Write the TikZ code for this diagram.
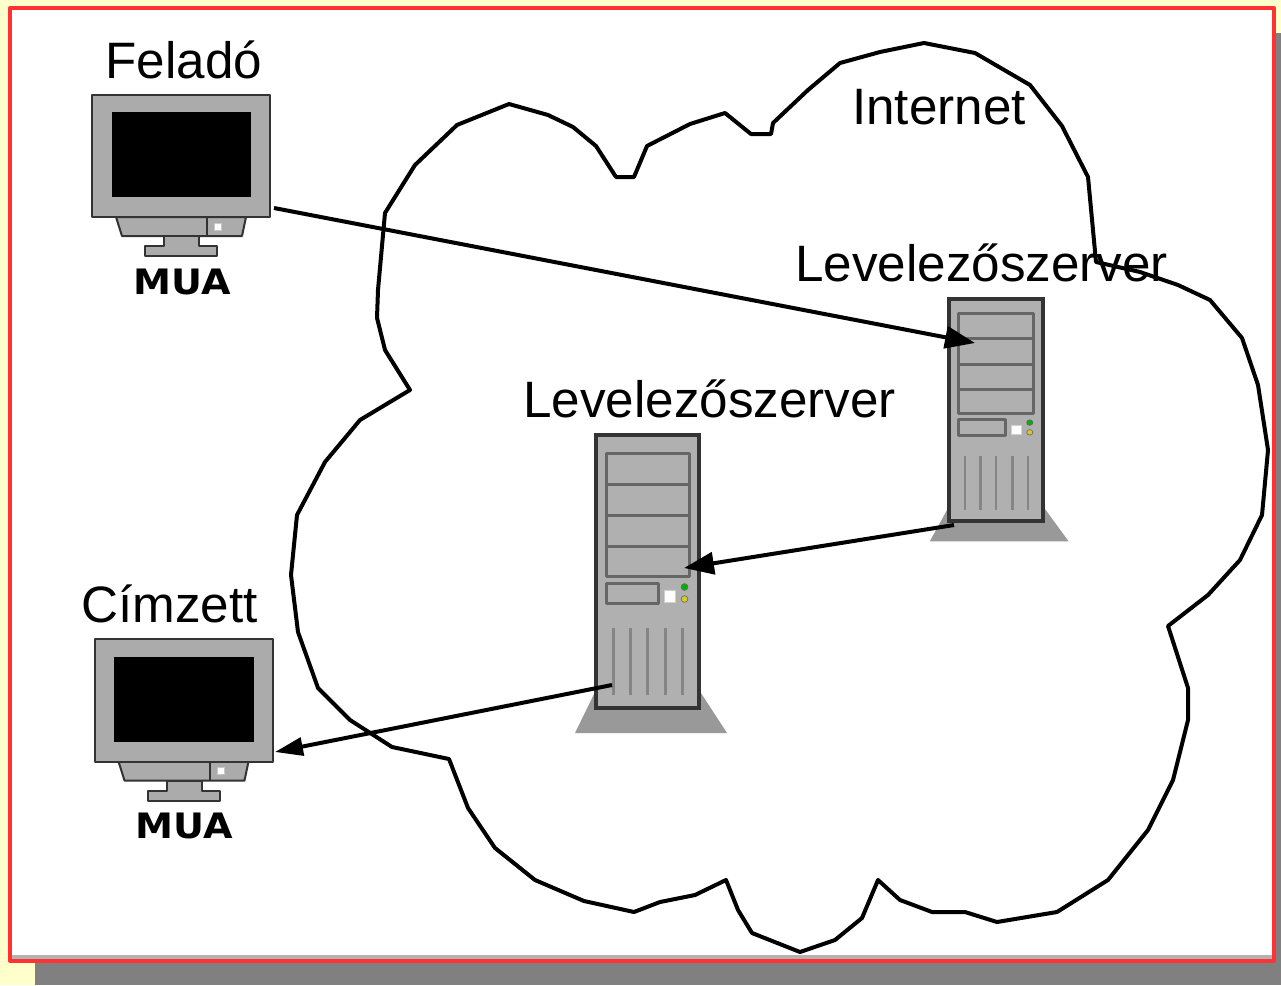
\documentclass[tikz,border=0pt]{standalone}
\usepackage{fontspec}
\setmainfont{Liberation Sans}
\newfontfamily\muafont{DejaVu Sans}
\usetikzlibrary{arrows.meta}
\definecolor{pagebg}{HTML}{FFFFCC}
\definecolor{shadowgray}{HTML}{808080}
\definecolor{framered}{HTML}{FF3333}
\definecolor{casegray}{HTML}{B0B0B0}
\definecolor{mongray}{HTML}{ABABAB}
\definecolor{basegray}{HTML}{999999}
\definecolor{edgegray}{HTML}{666666}
\definecolor{darkedge}{HTML}{333333}
\tikzset{
  x=1pt,y=-1pt,
  lbl/.style={font=\fontsize{51.2}{56}\selectfont,anchor=base west,inner sep=0pt,text=black},
  mua/.style={font=\muafont\bfseries\fontsize{35}{38}\selectfont,anchor=base,inner sep=0pt,text=black,xscale=1.09},
  cloudline/.style={draw=black,line width=4pt,line join=round},
  flow/.style={draw=black,line width=4pt,-{Triangle[length=30pt,width=22pt]}},
  flowthin/.style={draw=black,line width=4pt,-{Triangle[length=28pt,width=18pt]}},
  casebox/.style={fill=casegray,draw=darkedge,line width=3.4pt},
  bay/.style={draw=edgegray,line width=3pt,fill=casegray,line join=round},
  vent/.style={draw=edgegray!80,line width=2.6pt},
  monpart/.style={fill=mongray,draw=darkedge,line width=2pt,line join=round},
}
\newcommand{\drawmonitor}[2]{%
  \begin{scope}[shift={(#1,#2)}]
    \path[monpart] (24,123) -- (154,123) -- (150,142) -- (30,142) -- cycle;
    \path[monpart] (72,142) -- (72,152) -- (53,152) -- (53,162) -- (125,162) -- (125,152) -- (107,152) -- (107,142) -- cycle;
    \draw[darkedge,line width=2pt] (115,123) -- (115,142);
    \fill[white,draw=casegray!70!white,line width=1pt] (122.5,129) rectangle (129.5,136);
    \path[monpart] (0,0.5) rectangle (178,123);
    \fill[black] (19.5,18) rectangle (159,103);
  \end{scope}}
\newcommand{\drawserver}[4]{%
  \begin{scope}[shift={(#1,#2)},xscale=#3,yscale=#4]
    \fill[basegray] (0,255) -- (-21,298) -- (131,298) -- (103,255) -- cycle;
    \path[casebox] (0,0) rectangle (103,273);
    \path[bay] (10.5,18) rectangle (93,49);
    \path[bay] (10.5,49) rectangle (93,80);
    \path[bay] (10.5,80) rectangle (93,111);
    \path[bay] (10.5,111) rectangle (93,141);
    \path[bay] (10.5,148) rectangle (62,168);
    \fill[white,draw=casegray!60!white,line width=1pt] (68,155) rectangle (79.5,167);
    \fill[green!70!black,draw=edgegray,line width=.6pt] (88.5,152) circle (3.4);
    \fill[yellow!80!black,draw=edgegray,line width=.6pt] (88.5,164) circle (3.4);
    \foreach \vx in {17.5,34.5,51.5,69.5,86.5}{\draw[vent] (\vx,193) -- (\vx,260);}
  \end{scope}}
\begin{document}
\begin{tikzpicture}
\useasboundingbox (0,0) rectangle (1281,985);
\fill[pagebg] (0,0) rectangle (1281,985);
\fill[shadowgray] (35,33) rectangle (1281,985);
\fill[white] (10,8) rectangle (1274,961);
\fill[black!30] (12,955) rectangle (1272,959);
\draw[framered,line width=4pt,line join=round] (10,8) rectangle (1274,961);

\path[cloudline] (385,213) -- (415,165) -- (457,125) -- (509,104) -- (548,115) -- (573,127) -- (596,146) -- (616,177) -- (634,177) -- (647,146) -- (690,124) -- (725,113) -- (751,134) -- (771,134) -- (773,123) -- (808,90) -- (840,63) -- (880,52) -- (924,43) -- (975,53) -- (1030,85) -- (1062,126) -- (1088,177) -- (1096,262) -- (1140,272) -- (1178,285) -- (1210,300) -- (1242,338) -- (1258,385) -- (1268,450) -- (1262,515) -- (1240,560) -- (1208,595) -- (1168,626) -- (1188,688) -- (1188,720) -- (1173,780) -- (1148,830) -- (1108,880) -- (1057,912) -- (997,922) -- (965,912) -- (932,912) -- (900,900) -- (878,880) -- (862,918) -- (835,940) -- (800,952) -- (752,933) -- (738,910) -- (726,880) -- (695,895) -- (660,902) -- (634,912) -- (584,901) -- (535,880) -- (495,848) -- (468,808) -- (449,759) -- (392,747) -- (350,720) -- (318,688) -- (298,632) -- (291,575) -- (297,515) -- (325,462) -- (360,420) -- (410,390) -- (385,350) -- (377,318) -- (378,290) -- cycle;

\drawmonitor{92}{94}
\drawmonitor{94.5}{638.5}
\drawserver{949}{299}{0.9126}{0.813}
\drawserver{596}{435}{1}{1}

\node[lbl] (felado) at (105.5,78.5) {Feladó};
\node[lbl] (internet) at (852,124) {Internet};
\node[lbl] (szerver1) at (795,281) {Levelezőszerver};
\node[lbl] (szerver2) at (523,417) {Levelezőszerver};
\node[lbl] (cimzett) at (81,622) {Címzett};
\node[mua] (mua1) at (182.5,294.5) {MUA};
\node[mua] (mua2) at (184.5,838.5) {MUA};

\coordinate (muaout) at (274,208);
\coordinate (srvin) at (975,343);
\coordinate (srvout) at (954,525);
\coordinate (relayin) at (684,568);
\coordinate (relayout) at (612,685);
\coordinate (muain) at (275,752);
\draw[flow] (muaout) -- (srvin);
\draw[flow] (srvout) -- (relayin);
\draw[flowthin] (relayout) -- (muain);
\end{tikzpicture}
\end{document}
